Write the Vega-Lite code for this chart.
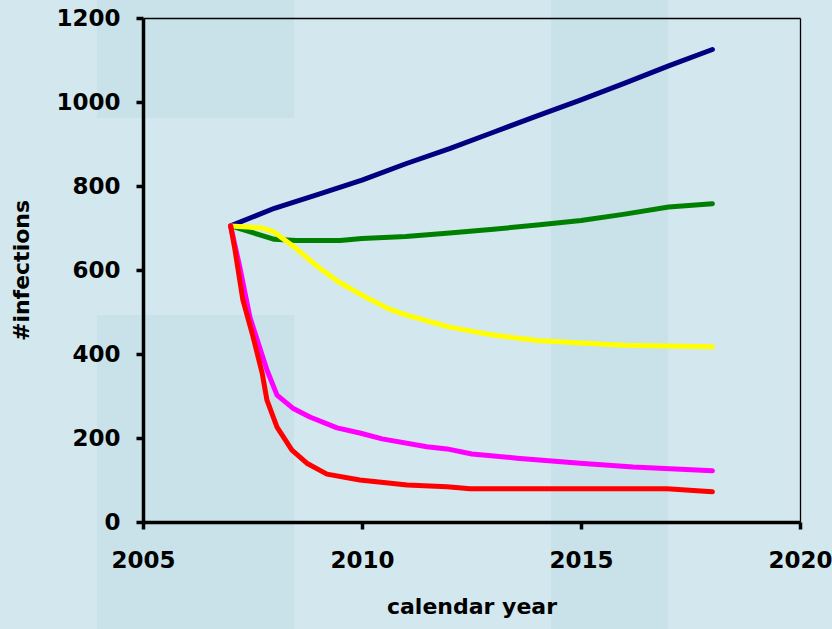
{
  "$schema": "https://vega.github.io/schema/vega-lite/v6.json",
  "autosize": {"type": "none"},
  "padding": {"left": 143, "top": 18, "right": 32, "bottom": 107},
  "width": 657,
  "height": 504,
  "background": "#d3e7ee",
  "config": {
    "view": {"stroke": null},
    "font": "DejaVu Sans",
    "axis": {
      "domainColor": "#000000", "domainWidth": 3.5, "tickColor": "#000000", "tickWidth": 3.5, "tickSize": 7,
      "grid": false, "labelFont": "DejaVu Sans", "labelFontSize": 23, "labelFontWeight": "bold", "labelColor": "#000000",
      "labelFlush": false, "labelOverlap": false,
      "titleFont": "DejaVu Sans", "titleFontSize": 22, "titleFontWeight": "bold", "titleColor": "#000000"
    }
  },
  "resolve": {"axis": {"x": "independent", "y": "independent"}},
  "datasets": {
    "bands": [
      {"x0": 2003.95, "x1": 2008.45, "y0": 962, "y1": 1250},
      {"x0": 2003.95, "x1": 2008.45, "y0": -260, "y1": 493},
      {"x0": 2014.31, "x1": 2016.99, "y0": -260, "y1": 1250}
    ],
    "series": [
      {"s": "scenario 1", "year": 2007, "v": 705},
      {"s": "scenario 1", "year": 2008, "v": 747},
      {"s": "scenario 1", "year": 2009, "v": 780},
      {"s": "scenario 1", "year": 2010, "v": 814},
      {"s": "scenario 1", "year": 2011, "v": 853},
      {"s": "scenario 1", "year": 2012, "v": 889},
      {"s": "scenario 1", "year": 2013, "v": 928},
      {"s": "scenario 1", "year": 2014, "v": 967},
      {"s": "scenario 1", "year": 2015, "v": 1005},
      {"s": "scenario 1", "year": 2016, "v": 1045},
      {"s": "scenario 1", "year": 2017, "v": 1086},
      {"s": "scenario 1", "year": 2018, "v": 1125},
      {"s": "scenario 2", "year": 2007, "v": 705},
      {"s": "scenario 2", "year": 2008, "v": 673},
      {"s": "scenario 2", "year": 2008.5, "v": 670},
      {"s": "scenario 2", "year": 2009.5, "v": 670},
      {"s": "scenario 2", "year": 2010, "v": 675},
      {"s": "scenario 2", "year": 2011, "v": 680},
      {"s": "scenario 2", "year": 2012, "v": 688},
      {"s": "scenario 2", "year": 2013, "v": 697},
      {"s": "scenario 2", "year": 2014, "v": 707},
      {"s": "scenario 2", "year": 2015, "v": 718},
      {"s": "scenario 2", "year": 2016, "v": 733},
      {"s": "scenario 2", "year": 2017, "v": 750},
      {"s": "scenario 2", "year": 2018, "v": 758},
      {"s": "scenario 3", "year": 2007, "v": 705},
      {"s": "scenario 3", "year": 2007.73, "v": 700},
      {"s": "scenario 3", "year": 2008, "v": 690},
      {"s": "scenario 3", "year": 2008.45, "v": 655},
      {"s": "scenario 3", "year": 2009, "v": 607},
      {"s": "scenario 3", "year": 2009.46, "v": 572},
      {"s": "scenario 3", "year": 2010, "v": 540},
      {"s": "scenario 3", "year": 2010.6, "v": 508},
      {"s": "scenario 3", "year": 2011, "v": 493},
      {"s": "scenario 3", "year": 2012, "v": 464},
      {"s": "scenario 3", "year": 2013, "v": 445},
      {"s": "scenario 3", "year": 2014, "v": 432},
      {"s": "scenario 3", "year": 2015, "v": 426},
      {"s": "scenario 3", "year": 2016, "v": 421},
      {"s": "scenario 3", "year": 2017, "v": 419},
      {"s": "scenario 3", "year": 2018, "v": 417},
      {"s": "scenario 4", "year": 2007, "v": 705},
      {"s": "scenario 4", "year": 2007.21, "v": 607},
      {"s": "scenario 4", "year": 2007.44, "v": 488},
      {"s": "scenario 4", "year": 2007.83, "v": 362},
      {"s": "scenario 4", "year": 2008.06, "v": 302},
      {"s": "scenario 4", "year": 2008.42, "v": 271},
      {"s": "scenario 4", "year": 2008.81, "v": 250},
      {"s": "scenario 4", "year": 2009.43, "v": 224},
      {"s": "scenario 4", "year": 2009.95, "v": 212},
      {"s": "scenario 4", "year": 2010.46, "v": 198},
      {"s": "scenario 4", "year": 2011.48, "v": 179},
      {"s": "scenario 4", "year": 2011.94, "v": 174},
      {"s": "scenario 4", "year": 2012.51, "v": 162},
      {"s": "scenario 4", "year": 2013.54, "v": 152},
      {"s": "scenario 4", "year": 2014.98, "v": 140},
      {"s": "scenario 4", "year": 2016.19, "v": 131},
      {"s": "scenario 4", "year": 2018, "v": 122},
      {"s": "scenario 5", "year": 2007, "v": 705},
      {"s": "scenario 5", "year": 2007.1, "v": 648},
      {"s": "scenario 5", "year": 2007.28, "v": 529},
      {"s": "scenario 5", "year": 2007.49, "v": 450},
      {"s": "scenario 5", "year": 2007.72, "v": 355},
      {"s": "scenario 5", "year": 2007.83, "v": 290},
      {"s": "scenario 5", "year": 2008.06, "v": 226},
      {"s": "scenario 5", "year": 2008.4, "v": 171},
      {"s": "scenario 5", "year": 2008.74, "v": 140},
      {"s": "scenario 5", "year": 2009.2, "v": 114},
      {"s": "scenario 5", "year": 2009.95, "v": 100},
      {"s": "scenario 5", "year": 2011.03, "v": 88},
      {"s": "scenario 5", "year": 2011.94, "v": 84},
      {"s": "scenario 5", "year": 2012.47, "v": 79},
      {"s": "scenario 5", "year": 2016.96, "v": 79},
      {"s": "scenario 5", "year": 2018, "v": 72}
    ]
  },
  "layer": [
    {
      "data": {"name": "bands"},
      "mark": {"type": "rect", "fill": "#c9e2ea"},
      "encoding": {
        "x": {"field": "x0", "type": "quantitative", "scale": {"domain": [2005, 2020]},
          "axis": {"title": "calendar year", "values": [2005, 2010, 2015, 2020], "format": "d", "labelPadding": 20, "titlePadding": 24, "zindex": 1}},
        "x2": {"field": "x1"},
        "y": {"field": "y0", "type": "quantitative", "scale": {"domain": [0, 1200]},
          "axis": {"title": "#infections", "values": [0, 200, 400, 600, 800, 1000, 1200], "format": "d", "labelPadding": 16, "titlePadding": 22, "zindex": 1}},
        "y2": {"field": "y1"}
      }
    },
    {
      "data": {"name": "series"},
      "mark": {"type": "line", "strokeWidth": 5, "strokeCap": "round", "strokeJoin": "round"},
      "encoding": {
        "x": {"field": "year", "type": "quantitative", "scale": {"domain": [2005, 2020]},
          "axis": {"orient": "top", "title": null, "labels": false, "ticks": false, "domainWidth": 1.3, "zindex": 1}},
        "y": {"field": "v", "type": "quantitative", "scale": {"domain": [0, 1200]},
          "axis": {"orient": "right", "title": null, "labels": false, "ticks": false, "domainWidth": 1.3, "zindex": 1}},
        "color": {"field": "s", "type": "nominal", "legend": null,
          "scale": {"domain": ["scenario 1", "scenario 2", "scenario 3", "scenario 4", "scenario 5"],
                    "range": ["#000080", "#008000", "#ffff00", "#ff00ff", "#ff0000"]}}
      }
    }
  ]
}
